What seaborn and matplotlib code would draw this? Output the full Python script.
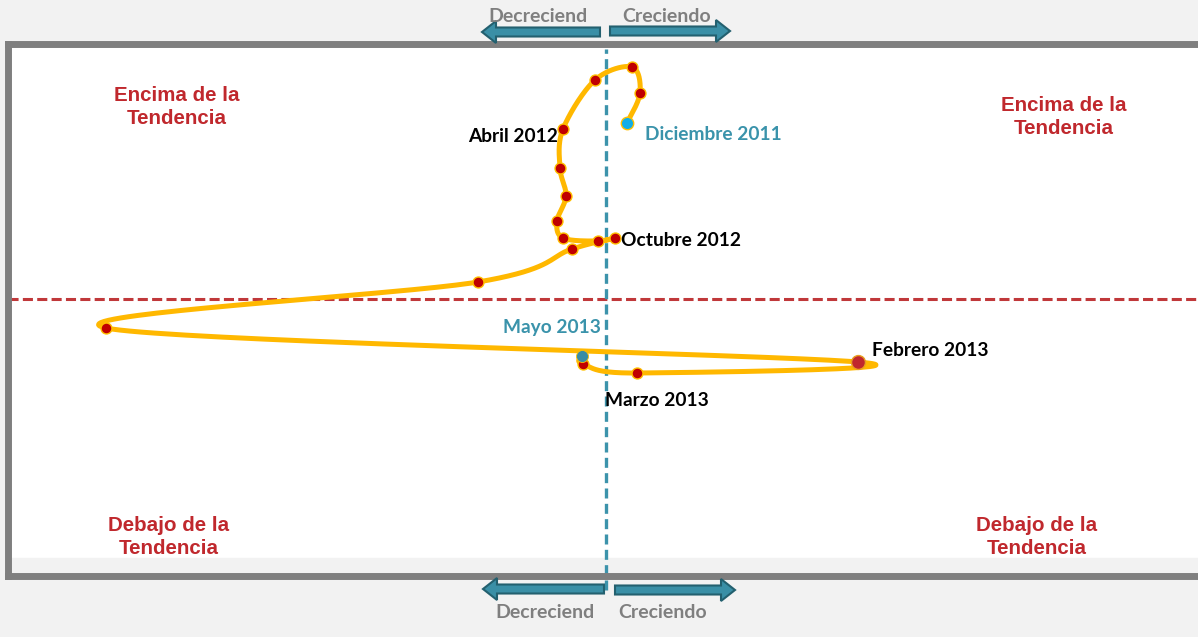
import numpy as np
import pandas as pd
import seaborn as sns
import matplotlib.pyplot as plt
from matplotlib.patches import FancyArrow

# Datos: crecimiento (eje x) vs. nivel respecto a la tendencia (eje y, 100 = tendencia)
meses = ['Dic 2011', 'Ene 2012', 'Feb 2012', 'Mar 2012', 'Abr 2012', 'May 2012',
         'Jun 2012', 'Jul 2012', 'Ago 2012', 'Sep 2012', 'Oct 2012', 'Nov 2012',
         'Dic 2012', 'Ene 2013', 'Feb 2013', 'Mar 2013', 'Abr 2013', 'May 2013']
crecimiento = [0.21, 0.34, 0.26, -0.11, -0.43, -0.46, -0.40, -0.49, -0.43,
               -0.08, 0.09, -0.34, -1.28, -5.00, 2.52, 0.31, -0.23, -0.24]
nivel = [107.04, 108.24, 109.28, 108.76, 106.80, 105.24, 104.12, 103.12, 102.44,
         102.32, 102.44, 102.00, 100.68, 98.84, 97.48, 97.04, 97.40, 97.72]

etiquetas = {'Dic 2011': 'Diciembre 2011', 'Abr 2012': 'Abril 2012',
             'Oct 2012': 'Octubre 2012', 'Feb 2013': 'Febrero 2013',
             'Mar 2013': 'Marzo 2013', 'May 2013': 'Mayo 2013'}

df = pd.DataFrame({'mes': meses, 'x': crecimiento, 'y': nivel})


def suavizar(x, y, n=40):
    # curva suavizada tipo Excel (Bezier con tangentes de Catmull-Rom)
    p = np.column_stack([x, y])
    p = np.vstack([p[0], p, p[-1]])
    out = []
    t = np.linspace(0, 1, n)[:, None]
    for i in range(1, len(p) - 2):
        p0, p3 = p[i], p[i + 1]
        c1 = p0 + (p[i + 1] - p[i - 1]) / 6
        c2 = p3 - (p[i + 2] - p[i]) / 6
        seg = (1 - t) ** 3 * p0 + 3 * (1 - t) ** 2 * t * c1 + 3 * (1 - t) * t ** 2 * c2 + t ** 3 * p3
        out.append(seg if i == 1 else seg[1:])
    out = np.vstack(out)
    return pd.DataFrame({'x': out[:, 0], 'y': out[:, 1]})


sns.set_style('white')
plt.rcParams['font.family'] = ['Lato', 'DejaVu Sans']

W, H = 1198, 637
fig = plt.figure(figsize=(W / 100, H / 100), dpi=100, facecolor='#f2f2f2')
ax = fig.add_axes([8 / W, (H - 576) / H, 1.0, (576 - 43.5) / H])
ax.set_facecolor('white')
ax.set_xlim(-5.98, 6.0)
ax.set_ylim(88.92, 110.22)
ax.set_xticks([])
ax.set_yticks([])
for s in ['left', 'top', 'bottom']:
    ax.spines[s].set_color('#7f7f7f')
    ax.spines[s].set_linewidth(5)
ax.spines['right'].set_visible(False)
ax.axhspan(88.92, 89.64, color='#f2f2f2', zorder=0)

# lineas de referencia
ax.axhline(100, color='#c0383a', lw=2.2, ls=(0, (3.3, 1.4)), zorder=1)
ax.axvline(0, ymin=-0.027, ymax=0.99, color='#3c93ab', lw=2.4,
           ls=(0, (3.0, 1.6)), zorder=1, clip_on=False)

curva = suavizar(crecimiento, nivel)
sns.lineplot(data=curva, x='x', y='y', sort=False, estimator=None,
             color='#ffb800', lw=3.6, ax=ax, zorder=2)

rojos = df[~df['mes'].isin(['Dic 2011', 'May 2013', 'Feb 2013'])]
sns.scatterplot(data=rojos, x='x', y='y', color='#c00000', edgecolor='#ffc000',
                linewidth=1, s=62, ax=ax, zorder=3)
sns.scatterplot(data=df[df['mes'] == 'Feb 2013'], x='x', y='y', color='#c0282d',
                edgecolor='#e8a020', linewidth=1, s=100, ax=ax, zorder=3)
sns.scatterplot(data=df[df['mes'] == 'Dic 2011'], x='x', y='y', color='#12aee8',
                edgecolor='#ffc000', linewidth=1, s=80, ax=ax, zorder=4)
sns.scatterplot(data=df[df['mes'] == 'May 2013'], x='x', y='y', color='#3a8ca5',
                edgecolor='#ffc000', linewidth=0.6, s=75, ax=ax, zorder=4)
ax.set_xlabel('')
ax.set_ylabel('')

# etiquetas de meses
estilo = {'Dic 2011': ((18, -11), 'left', '#3a93ab'),
          'Abr 2012': ((-5, -7), 'right', 'black'),
          'Oct 2012': ((6, -3), 'left', 'black'),
          'Feb 2013': ((14, 11), 'left', 'black'),
          'Mar 2013': ((20, -28), 'center', 'black'),
          'May 2013': ((-30, 28), 'center', '#3a93ab')}
for mes, texto in etiquetas.items():
    fila = df[df['mes'] == mes].iloc[0]
    off, ha, col = estilo[mes]
    ax.annotate(texto, (fila['x'], fila['y']), xytext=off, textcoords='offset pixels',
                ha=ha, va='center', fontsize=13.8, fontweight='bold', color=col, zorder=5)


def px(x, y):
    return x / W, 1 - y / H


# cuadrantes
cuadrantes = [(177, 107), (1064, 117), (169, 537), (1037, 537)]
textos_c = ['Encima de la\nTendencia', 'Encima de la\nTendencia',
            'Debajo de la\nTendencia', 'Debajo de la\nTendencia']
for (cx, cy), t in zip(cuadrantes, textos_c):
    fig.text(*px(cx, cy), t, ha='center', va='center', fontsize=14.8,
             fontweight='heavy', color='#c0282d', linespacing=1.3,
             family=['Liberation Sans', 'DejaVu Sans'])

# flechas superiores e inferiores
flechas = [(600, 32, -118), (610, 31, 120), (604, 589, -121), (615, 590, 120)]
for x0, y0, dx in flechas:
    a = FancyArrow(x0 / 100, (H - y0) / 100, dx / 100, 0, width=0.09,
                   head_width=0.22, head_length=0.14, length_includes_head=True,
                   facecolor='#3a8fa6', edgecolor='#23606f', lw=1.5,
                   transform=fig.dpi_scale_trans)
    fig.add_artist(a)

for (tx, ty), t in zip([(538, 16), (667, 17), (545, 613), (663, 612)],
                       ['Decreciend', 'Creciendo', 'Decreciend', 'Creciendo']):
    fig.text(*px(tx, ty), t, ha='center', va='center', fontsize=14,
             fontweight='bold', color='#7f7f7f')

fig.savefig('out.png', dpi=100, facecolor=fig.get_facecolor())
